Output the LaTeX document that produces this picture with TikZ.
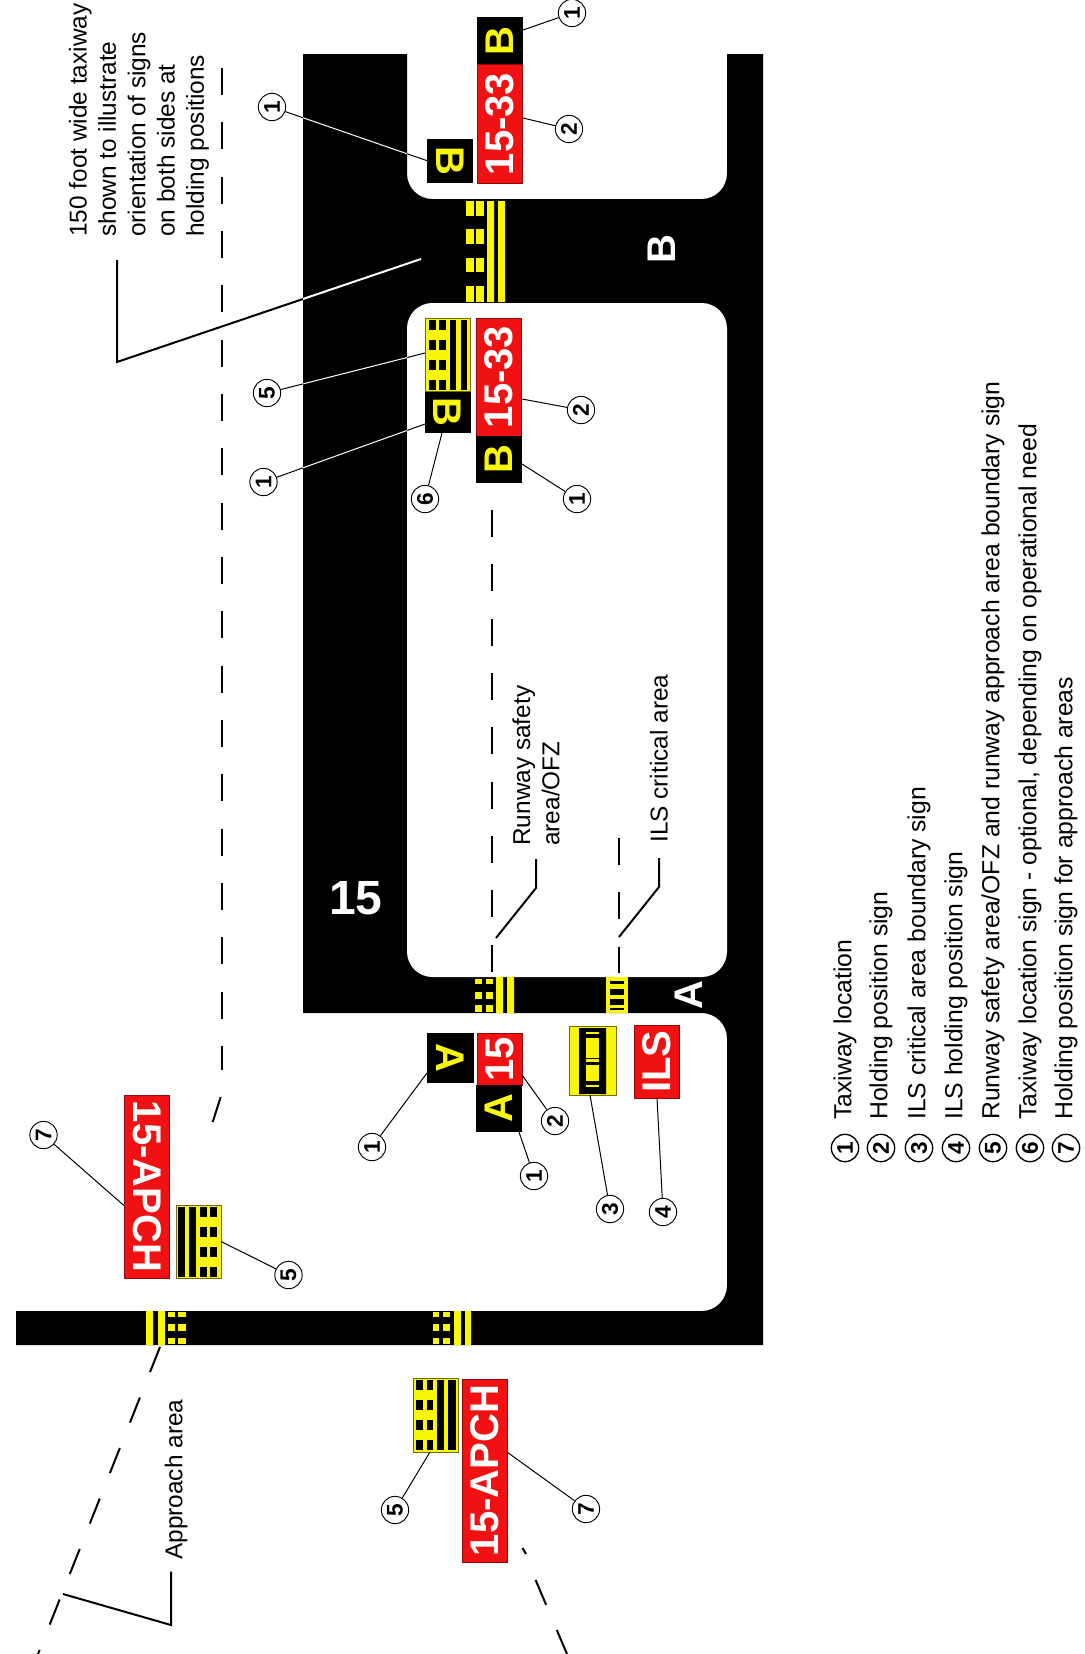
\documentclass[tikz,border=0pt]{standalone}
\usepackage{fontspec}
\setmainfont{Liberation Sans}
\definecolor{signred}{HTML}{F01212}
\definecolor{signyellow}{HTML}{FAF60A}
\newcommand{\crossline}[2]{%
    \draw[leader] (#1) -- (#2);
    \begin{scope}
        \clip (303,54) rectangle (407,1013) (407,199) rectangle (430,303);
        \draw[leader,white] (#1) -- (#2);
    \end{scope}}
\tikzset{
    sizebox/.style 2 args={minimum width=#1*0.75pt, minimum height=#2*0.75pt, inner sep=0pt},
    redsign/.style={fill=signred, draw=signred!60!black, line width=0.7pt, text=white, font=\fontsize{30}{30}\selectfont\bfseries, rotate=90},
    blacksign/.style={fill=black, text=signyellow, font=\fontsize{30}{30}\selectfont\bfseries, rotate=90},
    yellowsign/.style={fill=signyellow, draw=signyellow!45!black, line width=0.7pt},
    callout/.style={circle, draw, fill=white, line width=0.7pt, minimum size=20.5pt, inner sep=0pt, rotate=90, font=\fontsize{17}{17}\selectfont\bfseries},
    leader/.style={line width=0.75pt},
    heavyleader/.style={line width=1.5pt},
    arealine/.style={line width=1.5pt, dash pattern=on 20.25pt off 20.5pt},
    caption/.style={rotate=90, anchor=west, inner sep=0pt, align=left, font=\fontsize{18.3}{22}\selectfont},
    paint/.style={white, font=\fontsize{36}{36}\selectfont\bfseries, inner sep=0pt}
}
\begin{document}
\begin{tikzpicture}[x=0.75pt, y=-0.75pt]
        \useasboundingbox (0,0) rectangle (1085,1654);

        % pavement
        \fill (303,54) -- (407,54) [rounded corners=19pt] -- (407,199) -- (727,199) [sharp corners] -- (727,54)
            -- (763,54) -- (763,1345) -- (16,1345) -- (16,1311) [rounded corners=19pt] -- (727,1311) -- (727,1013)
            [sharp corners] -- (303,1013) -- cycle;
        \fill[white, rounded corners=19pt] (407,303) rectangle (727,977);

        \node[paint] (rwy) at (356,898) {15};
        \node[paint, rotate=90, font=\fontsize{30}{30}\selectfont\bfseries] (twyb) at (662,249.5) {B};
        \node[paint, rotate=90, font=\fontsize{30}{30}\selectfont\bfseries] (twya) at (689,995.5) {A};

        % surface markings
        \begin{scope}[signyellow]
        \fill (487,201) rectangle (494,302) (498,201) rectangle (505,302);
        \foreach \xa/\xb in {466/474,476/484}
            \foreach \ya/\yb in {201/215.5,229/244,258/272,286/302}
                \fill (\xa,\ya) rectangle (\xb,\yb);
        \fill (496,977) rectangle (503,1013) (507,977) rectangle (514,1013);
        \foreach \xa/\xb in {475/482,486/493}
            \foreach \ya/\yb in {979/984,992/999,1005/1012}
                \fill (\xa,\ya) rectangle (\xb,\yb);
        \fill (146,1311) rectangle (153,1345) (158,1311) rectangle (165,1345);
        \foreach \xa/\xb in {168/175,178/186}
            \foreach \ya/\yb in {1312/1317,1324/1331,1338/1344}
                \fill (\xa,\ya) rectangle (\xb,\yb);
        \fill (454,1311) rectangle (461,1345) (465,1311) rectangle (471,1345);
        \foreach \xa/\xb in {433/439,443/450}
            \foreach \ya/\yb in {1312/1317,1324/1331,1338/1344}
                \fill (\xa,\ya) rectangle (\xb,\yb);
        \fill (606,977) rectangle (628,1013);
        \end{scope}
        \foreach \ya/\yb in {981.3/984,988.7/995,999.3/1005.3,1008/1010.3}
            \fill (609.5,\ya) rectangle (624,\yb);

        % boundaries
        \draw[arealine] (222,68) -- (222,1070);
        \draw[arealine] (220.7,1097) -- (212.7,1122);
        \draw[arealine] (492,510) -- (492,972);
        \draw[arealine] (619,838) -- (619,973);
        \draw[arealine] (160,1347) -- (38,1654);
        \draw[line width=1.5pt] (522.5,1548) -- (526,1554);
        \draw[arealine] (535.6,1580) -- (567,1654);

        % signs
        \node[blacksign, sizebox={47.5}{46}] (loctop) at (500,41) {B};
        \node[redsign, sizebox={118.5}{45}] (holdtop) at (500,124) {15-33};
        \node[blacksign, sizebox={44}{46}, rotate=180] (locleft) at (450,161) {B};
        \node[redsign, sizebox={118}{45}] (holdmid) at (499,377) {15-33};
        \node[blacksign, sizebox={47}{46}] (locmid) at (499,459.5) {B};
        \node[blacksign, sizebox={42}{45.5}, rotate=180] (locopt) at (447.75,412) {B};
        \node[blacksign, sizebox={50}{47}, rotate=180] (locaup) at (450.5,1058) {A};
        \node[redsign, sizebox={52}{45}] (holda) at (499.5,1059) {15};
        \node[blacksign, sizebox={47}{46}] (localow) at (499,1108.5) {A};
        \node[redsign, sizebox={73}{45}] (ils) at (657,1061.5) {ILS};
        \node[redsign, sizebox={183}{45}, rotate=180] (apchup) at (147,1186.5) {15-APCH};
        \node[redsign, sizebox={183}{45}] (apchlow) at (484.5,1470.5) {15-APCH};

        \node[yellowsign, sizebox={45.5}{73}] (rsamid) at (447.75,354.5) {};
        \foreach \xa/\xb in {450/456,461/467}
            \fill (\xa,320) rectangle (\xb,390);
        \foreach \xa/\xb in {429/436,439/446}
            \foreach \ya/\yb in {320/330,340/350,360/370,380/390}
                \fill (\xa,\ya) rectangle (\xb,\yb);

        \node[yellowsign, sizebox={45}{73}] (rsaup) at (198.5,1241.5) {};
        \foreach \xa/\xb in {178/185,189/196}
            \fill (\xa,1207) rectangle (\xb,1277);
        \foreach \xa/\xb in {200/207,210/217}
            \foreach \ya/\yb in {1207/1217,1227/1237,1247/1257,1267/1277}
                \fill (\xa,\ya) rectangle (\xb,\yb);

        \node[yellowsign, sizebox={45}{74}] (rsalow) at (435.5,1415) {};
        \foreach \xa/\xb in {437/444,448/456}
            \fill (\xa,1380) rectangle (\xb,1450);
        \foreach \xa/\xb in {416/423,427/433}
            \foreach \ya/\yb in {1380/1390,1400/1410,1420/1430,1440/1450}
                \fill (\xa,\ya) rectangle (\xb,\yb);

        \node[yellowsign, sizebox={47}{69}] (ilsbound) at (592.5,1060.5) {};
        \fill (579,1028) rectangle (586,1094) (599,1028) rectangle (606,1094);
        \fill (586,1028) rectangle (599,1094);
        \foreach \ya/\yb in {1032.3/1034.3,1037.7/1057.7,1059/1061.7,1065/1081,1085/1087.3}
            \fill[signyellow] (586,\ya) rectangle (599,\yb);

        % numbered callouts
        \node[callout] (c1a) at (572,13) {1};
        \node[callout] (c2a) at (569,129) {2};
        \node[callout] (c1b) at (272,107) {1};
        \node[callout] (c5a) at (267,393) {5};
        \node[callout] (c1c) at (263.5,482) {1};
        \node[callout] (c6) at (425,499) {6};
        \node[callout] (c2b) at (581,410) {2};
        \node[callout] (c1d) at (577,499) {1};
        \node[callout] (c7a) at (43.5,1135) {7};
        \node[callout] (c5b) at (288.5,1275) {5};
        \node[callout] (c1e) at (372,1147) {1};
        \node[callout] (c1f) at (534,1176) {1};
        \node[callout] (c2c) at (555,1121) {2};
        \node[callout] (c3) at (610,1209) {3};
        \node[callout] (c4) at (663,1212) {4};
        \node[callout] (c5c) at (395,1510) {5};
        \node[callout] (c7b) at (586,1509) {7};

        \coordinate (e1a) at (523,30);
        \coordinate (e2a) at (523,118);
        \coordinate (e1b) at (428,161);
        \coordinate (e5a) at (425,353);
        \coordinate (e1c) at (425,424);
        \coordinate (e6) at (442,433);
        \coordinate (e2b) at (522,399);
        \coordinate (e1d) at (522,464);
        \coordinate (e7a) at (124.5,1206);
        \coordinate (e5b) at (221,1241.5);
        \coordinate (e1e) at (427,1073);
        \coordinate (e1f) at (519,1132);
        \coordinate (e2c) at (522,1075);
        \coordinate (e3) at (590,1095);
        \coordinate (e4) at (657,1098);
        \coordinate (e5c) at (430,1452);
        \coordinate (e7b) at (507,1452);

        \draw[leader] (c1a) -- (e1a);
        \draw[leader] (c2a) -- (e2a);
        \crossline{c1b}{e1b}
        \crossline{c5a}{e5a}
        \crossline{c1c}{e1c}
        \draw[leader] (c6) -- (e6);
        \draw[leader] (c2b) -- (e2b);
        \draw[leader] (c1d) -- (e1d);
        \draw[leader] (c7a) -- (e7a);
        \draw[leader] (c5b) -- (e5b);
        \draw[leader] (c1e) -- (e1e);
        \draw[leader] (c1f) -- (e1f);
        \draw[leader] (c2c) -- (e2c);
        \draw[leader] (c3) -- (e3);
        \draw[leader] (c4) -- (e4);
        \draw[leader] (c5c) -- (e5c);
        \draw[leader] (c7b) -- (e7b);

        % labels with their bent leaders
        \node[caption] (widenote) at (139,237) {150 foot wide taxiway\\shown to illustrate\\orientation of signs\\on both sides at\\holding positions};
        \coordinate (widea) at (117,260);
        \coordinate (wideb) at (117,362);
        \coordinate (widec) at (421,259);
        \draw[heavyleader] (widea) -- (wideb) -- (widec);
        \begin{scope}
            \clip (303,54) rectangle (407,1013) (407,199) rectangle (430,303);
            \draw[heavyleader, white] (wideb) -- (widec);
        \end{scope}

        \node[caption] (rsanote) at (536,846) {Runway safety\\area/OFZ};
        \coordinate (rsaa) at (536,859);
        \coordinate (rsab) at (536,888);
        \coordinate (rsac) at (496,938);
        \draw[heavyleader] (rsaa) -- (rsab) -- (rsac);

        \node[caption] (ilsnote) at (659,843) {ILS critical area};
        \coordinate (ilsa) at (659,858);
        \coordinate (ilsb) at (659,887);
        \coordinate (ilsc) at (619,937);
        \draw[heavyleader] (ilsa) -- (ilsb) -- (ilsc);

        \node[caption] (apchnote) at (176,1560) {Approach area};
        \coordinate (apa) at (171,1571.5);
        \coordinate (apb) at (171,1625);
        \coordinate (apc) at (63,1594);
        \draw[heavyleader] (apa) -- (apb) -- (apc);

        % legend
        \foreach \i/\x/\txt in {1/845/Taxiway location,
                2/881/Holding position sign,
                3/919/ILS critical area boundary sign,
                4/956/ILS holding position sign,
                5/993/{Runway safety area/OFZ and runway approach area boundary sign},
                6/1030/{Taxiway location sign - optional, depending on operational need},
                7/1066/Holding position sign for approach areas} {
            \node[callout, line width=1pt] (key\i) at (\x,1148) {\i};
            \node[caption, font=\fontsize{18.55}{22}\selectfont] (keytext\i) at (\x,1120) {\txt};
        }
\end{tikzpicture}
\end{document}
